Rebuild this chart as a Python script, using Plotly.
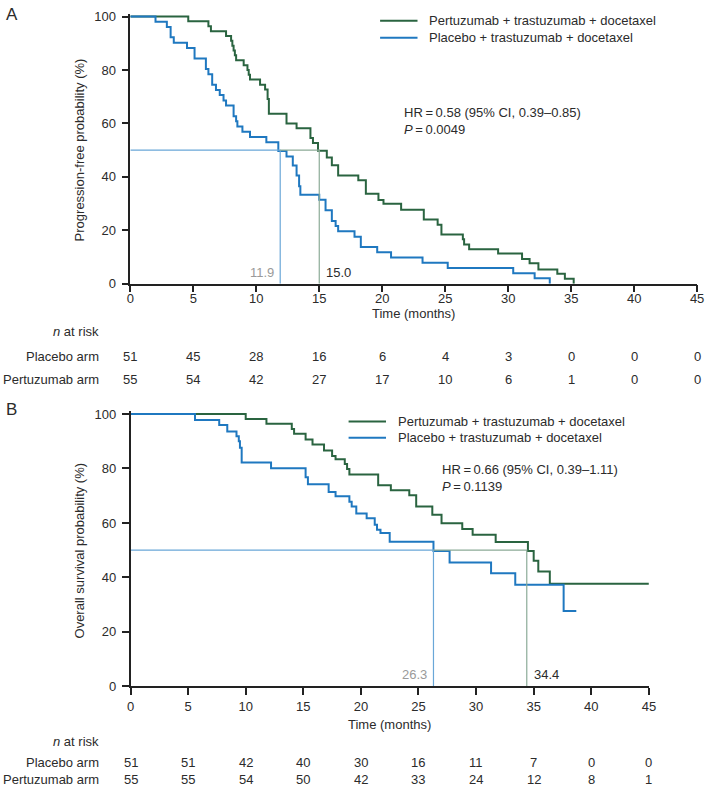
import plotly.graph_objects as go

# Kaplan-Meier step points (months, % event-free)
pfs_pertuzumab_t = [0, 4.6, 6.2, 6.4, 7.6, 8.0, 8.1, 8.2, 8.3, 8.4, 9.0, 9.3, 9.4, 9.5, 10.3, 10.7, 10.9, 11.0,
                    12.4, 13.2, 14.3, 14.5, 14.9, 15.6, 16.0, 16.5, 18.1, 18.7, 19.7, 20.1, 21.5, 23.3, 24.4,
                    24.7, 26.4, 26.5, 26.9, 29.2, 31.1, 31.7, 32.4, 33.9, 34.5, 35.2]
pfs_pertuzumab_s = [100, 98.2, 96.4, 94.5, 92.7, 90.9, 89.1, 87.3, 85.5, 83.6, 81.8, 80.0, 78.2, 76.4, 74.5,
                    72.7, 69.1, 63.6, 60.0, 58.2, 54.5, 52.7, 49.8, 47.2, 44.3, 40.5, 38.7, 33.7, 31.3, 29.9,
                    27.7, 24.0, 22.1, 18.4, 16.6, 14.7, 12.9, 11.3, 9.2, 7.6, 5.3, 3.7, 1.8, 0]
pfs_placebo_t = [0, 2.0, 2.9, 3.2, 3.45, 4.5, 5.1, 6.0, 6.2, 6.5, 6.8, 7.1, 7.4, 7.6, 8.2, 8.4, 8.5, 8.9, 9.5,
                 10.8, 11.75, 12.4, 12.9, 13.2, 13.4, 13.5, 15.0, 15.5, 16.0, 16.3, 16.5, 17.8, 18.3, 19.6,
                 20.7, 23.2, 25.2, 30.4, 32.1, 33.3]
pfs_placebo_s = [100, 98.0, 96.1, 92.2, 90.2, 88.2, 84.3, 80.4, 78.4, 74.5, 72.5, 70.6, 68.6, 66.7, 62.7,
                 60.8, 58.8, 56.9, 54.9, 52.9, 49.7, 47.6, 44.2, 40.5, 36.5, 33.3, 31.4, 27.5, 23.5, 21.6,
                 19.6, 17.6, 13.7, 11.8, 9.8, 7.8, 5.9, 3.9, 2.0, 0]

os_pertuzumab_t = [0, 10.0, 11.8, 14.0, 14.2, 15.2, 15.8, 16.8, 17.5, 17.8, 18.6, 18.8, 19.0, 21.5, 22.6,
                   24.2, 24.8, 26.2, 27.0, 28.8, 29.7, 31.7, 34.5, 35.0, 35.4, 36.4, 45.0]
os_pertuzumab_s = [100, 98.2, 96.4, 94.5, 92.7, 90.6, 88.8, 86.6, 84.6, 83.4, 81.6, 79.8, 77.8, 73.8, 72.0,
                   70.2, 66.0, 63.0, 59.9, 57.8, 55.7, 53.0, 49.7, 46.1, 42.2, 37.7, 37.7]
os_placebo_t = [0, 5.6, 7.7, 8.4, 9.2, 9.4, 9.5, 9.65, 12.2, 15.2, 15.4, 17.2, 17.8, 19.0, 19.2, 19.6, 20.5,
                21.2, 21.4, 21.7, 22.5, 26.3, 27.7, 31.3, 33.4, 37.6, 38.7]
os_placebo_s = [100, 97.8, 96.0, 93.6, 91.8, 90.0, 87.6, 82.2, 80.1, 76.8, 74.2, 71.4, 69.8, 67.8, 66.0, 63.5,
                61.7, 59.3, 57.5, 56.3, 53.1, 49.7, 45.5, 41.5, 37.3, 27.7, 27.7]

# medians [placebo, pertuzumab]
pfs_medians = [11.9, 15.0]
os_medians = [26.3, 34.4]

risk_times = [0, 5, 10, 15, 20, 25, 30, 35, 40, 45]
pfs_risk_placebo = [51, 45, 28, 16, 6, 4, 3, 0, 0, 0]
pfs_risk_pertuzumab = [55, 54, 42, 27, 17, 10, 6, 1, 0, 0]
os_risk_placebo = [51, 51, 42, 40, 30, 16, 11, 7, 0, 0]
os_risk_pertuzumab = [55, 55, 54, 50, 42, 33, 24, 12, 8, 1]

arm_names = ["Pertuzumab + trastuzumab + docetaxel", "Placebo + trastuzumab + docetaxel"]

GREEN = "#2a6440"
BLUE = "#1f78c0"
GREEN_MED = "#8cab97"
BLUE_MED = "#6aa7d8"
TEXT = "#2b2b2b"
FONT = "Liberation Sans, Arial, sans-serif"
W, H = 712, 796


def px_x(v):
    return v / W


def px_y(v):
    return 1 - v / H


fig = go.Figure()


def add_panel(xa, ya, pert_t, pert_s, plac_t, plac_s, medians):
    fig.add_trace(go.Scatter(x=pert_t, y=pert_s, mode="lines", line=dict(color=GREEN, width=2, shape="hv"),
                             name=arm_names[0], xaxis=xa, yaxis=ya, showlegend=False))
    fig.add_trace(go.Scatter(x=plac_t, y=plac_s, mode="lines", line=dict(color=BLUE, width=2, shape="hv"),
                             name=arm_names[1], xaxis=xa, yaxis=ya, showlegend=False))
    m_plac, m_pert = medians
    fig.add_trace(go.Scatter(x=[0, m_plac, m_plac], y=[50, 50, 0], mode="lines",
                             line=dict(color=BLUE_MED, width=1.2), showlegend=False, xaxis=xa, yaxis=ya))
    fig.add_trace(go.Scatter(x=[m_plac, m_pert, m_pert], y=[50, 50, 0], mode="lines",
                             line=dict(color=GREEN_MED, width=1.2), showlegend=False, xaxis=xa, yaxis=ya))
    fig.add_annotation(x=m_plac, y=4.3, xref=xa, yref=ya, text=f"{m_plac:.1f}", showarrow=False,
                       xanchor="right", xshift=-4, font=dict(color="#9a9a9a", size=13))
    fig.add_annotation(x=m_pert, y=4.3, xref=xa, yref=ya, text=f"{m_pert:.1f}", showarrow=False,
                       xanchor="left", xshift=5, font=dict(color=TEXT, size=13))


add_panel("x", "y", pfs_pertuzumab_t, pfs_pertuzumab_s, pfs_placebo_t, pfs_placebo_s, pfs_medians)
add_panel("x2", "y2", os_pertuzumab_t, os_pertuzumab_s, os_placebo_t, os_placebo_s, os_medians)

axis_style = dict(showgrid=False, zeroline=False, showline=True, linecolor="#222", linewidth=1.5,
                  ticks="outside", ticklen=7, tickwidth=1.5, tickcolor="#222",
                  tickfont=dict(size=13, color=TEXT))

fig.update_layout(
    xaxis=dict(domain=[px_x(128.3), px_x(704)], range=[0, 45], tickvals=risk_times, anchor="y",
               ticklabelstandoff=-5, **axis_style),
    yaxis=dict(domain=[px_y(283.3), px_y(9.0)], range=[0, 101], tickvals=[0, 20, 40, 60, 80, 100],
               anchor="x", ticklabelstandoff=3, **axis_style),
    xaxis2=dict(domain=[px_x(128.5), px_x(655)], range=[0, 45], tickvals=risk_times, anchor="y2", **axis_style),
    yaxis2=dict(domain=[px_y(692.7), px_y(413.0)], range=[0, 101], tickvals=[0, 20, 40, 60, 80, 100],
                anchor="x2", ticklabelstandoff=3, **axis_style),
    width=W, height=H,
    margin=dict(l=0, r=0, t=0, b=0),
    plot_bgcolor="white", paper_bgcolor="white",
    font=dict(family=FONT, size=13, color=TEXT),
    showlegend=False,
)


def note(x, y, text, anchor="left", size=13, angle=0, color=TEXT):
    fig.add_annotation(x=px_x(x), y=px_y(y), xref="paper", yref="paper", text=text, showarrow=False,
                       xanchor=anchor, yanchor="middle", textangle=angle, font=dict(size=size, color=color))


def legend_box(x0, y_rows):
    # hand-drawn key: sample line + label, one row per arm
    for name, color, y in zip(arm_names, [GREEN, BLUE], y_rows):
        fig.add_shape(type="line", xref="paper", yref="paper", x0=px_x(x0), x1=px_x(x0 + 38),
                      y0=px_y(y), y1=px_y(y), line=dict(color=color, width=2))
        note(x0 + 48, y, name)


legend_box(382, [16, 33.3])
legend_box(350, [423.3, 440])

# panel letters, stats, axis titles
note(0, 10, "A", size=17)
note(0, 411, "B", size=17)
note(404, 109.3, "HR\u2009=\u20090.58 (95% CI, 0.39\u20130.85)")
note(404, 126.7, "<i>P</i>\u2009=\u20090.0049")
note(443, 472.7, "HR\u2009=\u20090.66 (95% CI, 0.39\u20131.11)")
note(443, 490, "<i>P</i>\u2009=\u20090.1139")
note(76.5, 147.5, "Progression-free probability (%)", anchor="center", angle=-90)
note(76.5, 554.2, "Overall survival probability (%)", anchor="center", angle=-90)


def risk_table(xa, axis_px, placebo, pertuzumab, center, rows):
    t_off, n_off, p_off, q_off = rows
    note(center, axis_px + t_off, "Time (months)", anchor="center")
    note(99, axis_px + n_off, "<i>n</i> at risk", anchor="right")
    note(99, axis_px + p_off, "Placebo arm", anchor="right")
    note(99, axis_px + q_off, "Pertuzumab arm", anchor="right")
    for t, a, b in zip(risk_times, placebo, pertuzumab):
        fig.add_annotation(x=t, y=px_y(axis_px + p_off), xref=xa, yref="paper", text=str(a), showarrow=False,
                           yanchor="middle", font=dict(size=13, color=TEXT))
        fig.add_annotation(x=t, y=px_y(axis_px + q_off), xref=xa, yref="paper", text=str(b), showarrow=False,
                           yanchor="middle", font=dict(size=13, color=TEXT))


risk_table("x", 283.3, pfs_risk_placebo, pfs_risk_pertuzumab, 416, [30, 49, 74, 97])
risk_table("x2", 692.7, os_risk_placebo, os_risk_pertuzumab, 392, [39, 56, 77, 95])

# the page body has a default 8px margin; drop it so the 712x796 figure fills the window exactly
fig.write_html("out.html", config={"displayModeBar": False},
               post_script="document.body.style.margin='0';document.body.style.overflow='hidden';")
